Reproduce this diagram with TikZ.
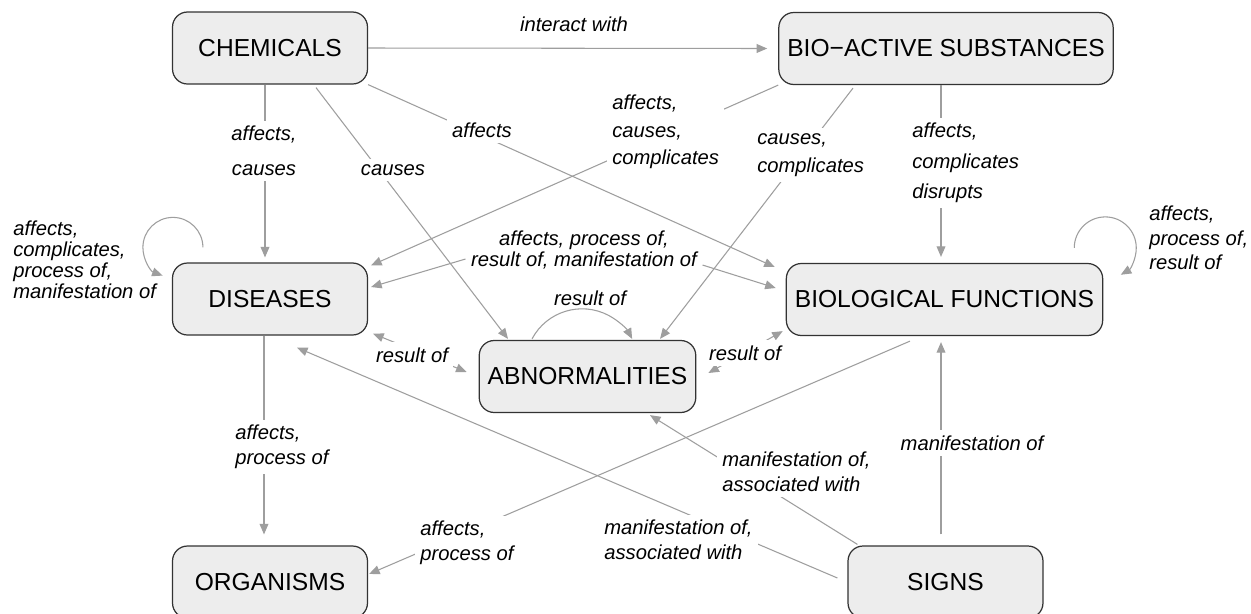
\documentclass[tikz,border=0pt]{standalone}
\usepackage{fontspec}
\setmainfont{Liberation Sans}
\newfontface\linkface{Liberation Sans Italic}
\usepackage{tikz}
\usetikzlibrary{arrows.meta,calc}
\tikzset{
  >={Triangle[length=6pt,width=5pt]},
  concept/.style={draw=black!80,fill=black!7,line width=0.7pt,rounded corners=0.3cm,
    minimum width=3.9cm,minimum height=1.44cm,inner xsep=0.17cm,font=\conceptfont},
  phrase/.style={inner sep=3pt,align=left,font=\linkfont},
  onlink/.style={phrase,fill=white},
  lnk/.style={draw=black!38,line width=0.6pt,->}
}
\newcommand{\conceptfont}{\fontsize{14}{16}\selectfont}
\newcommand{\linkfont}{\linkface\fontsize{11.5}{14}\selectfont}

\begin{document}
\begin{tikzpicture}[x=0.02cm,y=0.02cm]
\useasboundingbox (0,0) rectangle (1251,-613);
\fill[white] (0,0) rectangle (1251,-613);
% concepts
\node[concept] (chem)   at (270,-48)      {CHEMICALS};
\node[concept] (bioact) at (946,-48.5)    {BIO−ACTIVE SUBSTANCES};
\node[concept] (dis)    at (270,-299)     {DISEASES};
\node[concept] (abn)    at (587.5,-376.5) {ABNORMALITIES};
\node[concept] (biofn)  at (944.5,-299.5) {BIOLOGICAL FUNCTIONS};
\node[concept] (org)    at (270,-582)     {ORGANISMS};
\node[concept] (signs)  at (945.5,-582)   {SIGNS};
% links from chemicals
\draw[lnk] (chem.east) -- ($(bioact.west)+(-11,0)$);
\draw[lnk] ($(chem.south)+(-5,0)$) -- ($(dis.north)+(-5,5)$);
\draw[lnk] ($(chem.south)+(46,-3)$) -- ($(abn.north)+(-79.5,1)$);
\draw[lnk] (chem.south east) -- ($(biofn.west)+(-11,32.5)$);
% links from bio-active substances
\draw[lnk] (bioact.south west) -- ($(dis.north east)+(3,-3)$);
\draw[lnk] ($(bioact.south)+(-93,-3)$) -- ($(abn.north)+(72.5,1)$);
\draw[lnk] ($(bioact.south)+(-5,0)$) -- ($(biofn.north)+(-3.5,6)$);
% middle row
\draw[lnk,<->] ($(dis.south east)+(5,2)$) -- ($(abn.west)+(-12,4.5)$);
\draw[lnk,<->] ($(abn.east)+(12,3.5)$) -- ($(biofn.south west)+(-3,5)$);
\draw[lnk] ($(dis.south)+(-6,0)$) -- ($(org.north)+(-6,11)$);
\draw[lnk] ($(biofn.south)+(-34.5,-5)$) -- ($(org.east)+(1,8)$);
% links from signs
\draw[lnk] ($(signs.north west)+(10,1)$) -- ($(abn.south)+(62.5,-2)$);
\draw[lnk] ($(signs.west)+(-10,4)$) -- ($(dis.south)+(27,-12)$);
\draw[lnk] ($(signs.north)+(-4.5,11)$) -- ($(biofn.south)+(-3.5,-6)$);
% linking phrases
\node[phrase] (pInteract) at (574,-24) {interact with};
\node[onlink,align=center] (pAffCau) at (264,-151) {affects,\\[6pt]causes};
\node[onlink] (pCauses) at (393,-170) {causes};
\node[onlink] (pAffects) at (482,-130) {affects};
\node[onlink,anchor=west] (pAffCauCom) at (606.7,-132) {affects,\\[1.5pt]causes,\\[1.5pt]complicates};
\node[onlink,anchor=west] (pCauCom) at (751.7,-155) {causes,\\[2pt]complicates};
\node[onlink,anchor=west] (pAffComDis) at (906.7,-163) {affects,\\[3.5pt]complicates\\[3.5pt]disrupts};
\node[phrase,anchor=west] (pFnSelf) at (1143.7,-238) {affects,\\process of,\\result of};
\node[phrase,anchor=west] (pDisSelf) at (7.7,-260) {affects,\\[-2pt]complicates,\\[-2pt]process of,\\[-2pt]manifestation of};
\node[phrase,align=center] (pDisFn) at (584,-250) {affects, process of,\\[-2.5pt]result of, manifestation of};
\node[phrase] (pAbnSelf) at (590,-298) {result of};
\node[onlink] (pDisAbn) at (412,-355) {result of};
\node[onlink] (pAbnFn) at (745,-353) {result of};
\node[onlink,anchor=west] (pDisOrg) at (229.7,-447) {affects,\\process of};
\node[onlink,anchor=west] (pFnOrg) at (414.7,-543) {affects,\\process of};
\node[onlink,anchor=west] (pSgnAbn) at (716.7,-472) {manifestation of,\\associated with};
\node[onlink,anchor=west] (pSgnDis) at (598.7,-540) {manifestation of,\\associated with};
\node[onlink] (pSgnFn) at (972,-443) {manifestation of};
% shared phrase between diseases and functions
\draw[lnk] ($(pDisFn.west)+(0,-9)$) -- ($(dis.east)+(3,12)$);
\draw[lnk] ($(pDisFn.east)+(0,-15)$) -- ($(biofn.west)+(-10,11.5)$);
% self loops
\draw[lnk] ($(dis.north west)+(31,15)$) arc[start angle=0,end angle=250,radius=30];
\draw[lnk] ($(abn.north)+(-55.5,1)$) arc[start angle=152,end angle=28,radius=56.7];
\draw[lnk] ($(biofn.north east)+(-29,15)$) arc[start angle=180,end angle=-60,radius=31];
\end{tikzpicture}
\end{document}
